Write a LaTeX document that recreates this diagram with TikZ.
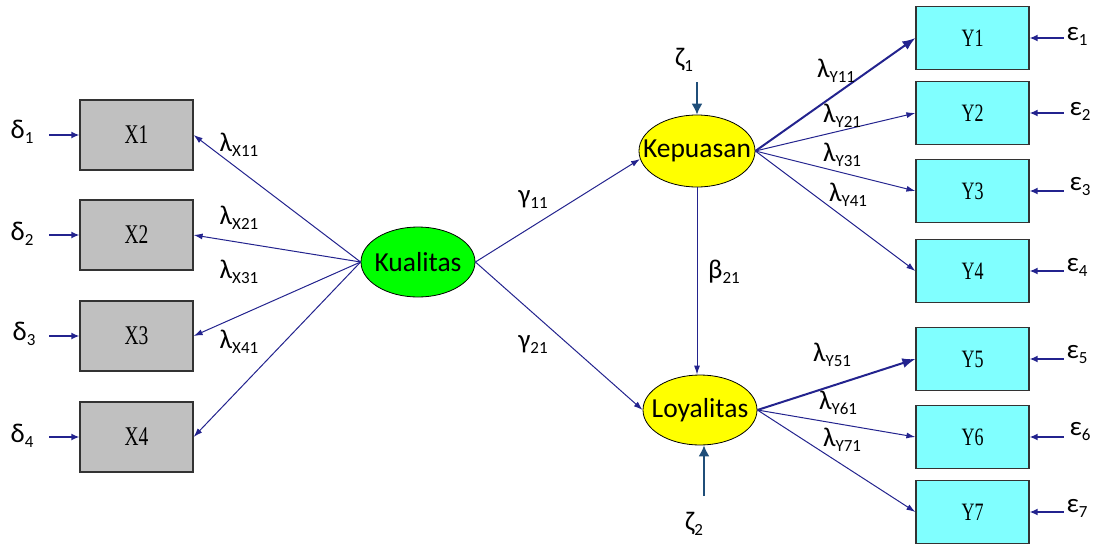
\documentclass[tikz,border=0pt]{standalone}
\usepackage{fontspec}
\setmainfont{Carlito}
\newfontfamily\boxfont[FakeStretch=0.72]{Liberation Serif}
\usetikzlibrary{arrows.meta,shapes.geometric}
\definecolor{pathblue}{HTML}{23238E}
\definecolor{errblue}{HTML}{1F4E79}
\definecolor{xgray}{HTML}{C0C0C0}
\definecolor{ycyan}{HTML}{80FFFF}
\definecolor{kgreen}{HTML}{00FF00}
\definecolor{lyellow}{HTML}{FFFF00}
% Greek symbol with a lowered subscript
\newcommand{\greeksub}[2]{{\fontsize{27}{27}\selectfont #1}\raisebox{-5pt}{\fontsize{17}{17}\selectfont #2}}
\begin{document}
\begin{tikzpicture}[x=1pt,y=-1pt,
  obsx/.style={draw=black!80,line width=1.2pt,fill=xgray,minimum width=113pt,minimum height=70pt,inner sep=0pt,
    font=\boxfont\fontsize{27}{27}\selectfont},
  obsy/.style={draw=black!80,line width=1.2pt,fill=ycyan,minimum width=113pt,minimum height=63pt,inner sep=0pt,
    font=\boxfont\fontsize{25}{25}\selectfont},
  latent/.style={ellipse,draw=black,line width=0.8pt,inner sep=0pt,
    label={[font=\fontsize{27.5}{27.5}\selectfont,inner sep=0pt]center:#1}},
  path/.style={draw=pathblue,line width=1pt,-{Latex[length=9pt,width=6pt]}},
  boldpath/.style={draw=pathblue,line width=2pt,-{Latex[length=13pt,width=10pt]}},
  errarrow/.style={draw=pathblue,line width=2pt,-{Latex[length=8pt,width=7pt]}},
  distarrow/.style={draw=errblue,line width=1.8pt,-{Latex[length=11pt,width=11pt]}},
  coef/.style={inner sep=0pt,anchor=center}]
\useasboundingbox (0,0) rectangle (1100,544);

% exogenous indicators
\node[obsx] (X1) at (136.5,135) {X1};
\node[obsx] (X2) at (136.5,235) {X2};
\node[obsx] (X3) at (136.5,336) {X3};
\node[obsx] (X4) at (136.5,437) {X4};

% endogenous indicators
\node[obsy] (Y1) at (972.5,38) {Y1};
\node[obsy] (Y2) at (972.5,113) {Y2};
\node[obsy] (Y3) at (972.5,191) {Y3};
\node[obsy] (Y4) at (972.5,271) {Y4};
\node[obsy] (Y5) at (972.5,359) {Y5};
\node[obsy] (Y6) at (972.5,437) {Y6};
\node[obsy] (Y7) at (972.5,512) {Y7};

% latent variables
\node[latent=Kualitas,fill=kgreen,minimum width=114pt,minimum height=70pt] (K) at (418,262) {};
\node[latent=Kepuasan,fill=lyellow,minimum width=116pt,minimum height=72pt] (P) at (697,151) {};
\node[latent=Loyalitas,fill=lyellow,minimum width=114pt,minimum height=70pt] (L) at (700,410) {};

% measurement errors of X
\foreach \i in {1,...,4}{
  \coordinate (dx\i) at ([xshift=-30pt]X\i.west);
  \draw[errarrow] (dx\i) -- (X\i.west);
}
\node[coef] (d1) at (22,132) {\greeksub{δ}{1}};
\node[coef] (d2) at (22,234) {\greeksub{δ}{2}};
\node[coef] (d3) at (24,334) {\greeksub{δ}{3}};
\node[coef] (d4) at (22,436) {\greeksub{δ}{4}};

% measurement errors of Y
\foreach \i in {1,...,7}{
  \coordinate (ey\i) at ([xshift=34pt]Y\i.east);
  \draw[errarrow] (ey\i) -- (Y\i.east);
}
\node[coef] (e1) at (1077,36) {\greeksub{ε}{1}};
\node[coef] (e2) at (1080,111) {\greeksub{ε}{2}};
\node[coef] (e3) at (1080,187) {\greeksub{ε}{3}};
\node[coef] (e4) at (1077,267) {\greeksub{ε}{4}};
\node[coef] (e5) at (1077,355) {\greeksub{ε}{5}};
\node[coef] (e6) at (1080,432) {\greeksub{ε}{6}};
\node[coef] (e7) at (1077,508) {\greeksub{ε}{7}};

% loadings of Kualitas
\foreach \i in {1,...,4}{
  \draw[path] (K.west) -- (X\i.east);
}
\node[coef] (lx1) at (239,145) {\greeksub{λ}{X11}};
\node[coef] (lx2) at (239,218) {\greeksub{λ}{X21}};
\node[coef] (lx3) at (239,272) {\greeksub{λ}{X31}};
\node[coef] (lx4) at (239,342) {\greeksub{λ}{X41}};

% loadings of Kepuasan
\draw[boldpath] (P.east) -- (Y1.west);
\draw[path] (P.east) -- (Y2.west);
\draw[path] (P.east) -- (Y3.west);
\draw[path] (P.east) -- (Y4.west);
\node[coef] (ly1) at (836,71) {\greeksub{λ}{Y11}};
\node[coef] (ly2) at (842,116) {\greeksub{λ}{Y21}};
\node[coef] (ly3) at (842,155) {\greeksub{λ}{Y31}};
\node[coef] (ly4) at (848,195) {\greeksub{λ}{Y41}};

% loadings of Loyalitas
\draw[boldpath] (L.east) -- (Y5.west);
\draw[path] (L.east) -- (Y6.west);
\draw[path] (L.east) -- (Y7.west);
\node[coef] (ly5) at (832,355) {\greeksub{λ}{Y51}};
\node[coef] (ly6) at (838,403) {\greeksub{λ}{Y61}};
\node[coef] (ly7) at (842,440) {\greeksub{λ}{Y71}};

% structural paths
\draw[path] (K.east) -- (P.188);
\draw[path] (K.east) -- (L.west);
\draw[path] (P.south) -- (P.south |- L.north);
\node[coef] (g11) at (533,200) {\greeksub{γ}{11}};
\node[coef] (g21) at (533,345) {\greeksub{γ}{21}};
\node[coef] (b21) at (724,272) {\greeksub{β}{21}};

% disturbances
\coordinate (z1a) at (697,82);
\coordinate (z2a) at (704,496);
\draw[distarrow] (z1a) -- (P.north);
\draw[distarrow] (z2a) -- (z2a |- L.south);
\node[coef] (z1) at (684,60) {\greeksub{ζ}{1}};
\node[coef] (z2) at (694,524) {\greeksub{ζ}{2}};
\end{tikzpicture}
\end{document}
